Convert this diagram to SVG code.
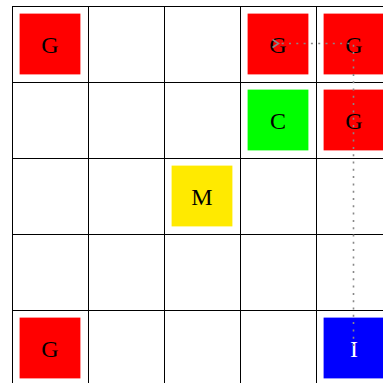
<svg xmlns="http://www.w3.org/2000/svg" width="383" height="383" viewBox="0 0 383 383">
<defs>
<style>
.grid line{stroke:#000;stroke-width:1}
.cell text{font-family:"Liberation Serif","Times New Roman",serif;font-size:24px;text-anchor:middle;fill:#000}
.conn{fill:none;stroke:#888;stroke-width:1.6;stroke-dasharray:2 5.3}
</style>
<marker id="arr" viewBox="0 0 10 10" refX="1" refY="5" markerWidth="10" markerHeight="10" markerUnits="userSpaceOnUse" orient="auto-start-reverse">
<path d="M7,1 L1,5 L7,9" fill="none" stroke="#888" stroke-width="1.6"/>
</marker>
</defs>
<rect width="383" height="383" fill="#fff"/>
<g class="grid">
<line x1="12.5" y1="6" x2="12.5" y2="383"/>
<line x1="88.5" y1="6" x2="88.5" y2="383"/>
<line x1="164.5" y1="6" x2="164.5" y2="383"/>
<line x1="240.5" y1="6" x2="240.5" y2="383"/>
<line x1="316.5" y1="6" x2="316.5" y2="383"/>
<line x1="12" y1="6.5" x2="383" y2="6.5"/>
<line x1="12" y1="82.5" x2="383" y2="82.5"/>
<line x1="12" y1="158.5" x2="383" y2="158.5"/>
<line x1="12" y1="234.5" x2="383" y2="234.5"/>
<line x1="12" y1="310.5" x2="383" y2="310.5"/>
</g>
<g id="g00" class="cell"><rect x="19.6" y="13.6" width="60.8" height="60.8" fill="#f00"/><text x="50" y="52.5">G</text></g>
<g id="g03" class="cell"><rect x="247.6" y="13.6" width="60.8" height="60.8" fill="#f00"/><text x="278" y="52.5">G</text></g>
<g id="g04" class="cell"><rect x="323.6" y="13.6" width="60.8" height="60.8" fill="#f00"/><text x="354" y="52.5">G</text></g>
<g id="c13" class="cell"><rect x="247.6" y="89.6" width="60.8" height="60.8" fill="#0f0"/><text x="278" y="128.5">C</text></g>
<g id="g14" class="cell"><rect x="323.6" y="89.6" width="60.8" height="60.8" fill="#f00"/><text x="354" y="128.5">G</text></g>
<g id="m22" class="cell"><rect x="171.6" y="165.6" width="60.8" height="60.8" fill="#ffea00"/><text x="202" y="204.5">M</text></g>
<g id="g40" class="cell"><rect x="19.6" y="317.6" width="60.8" height="60.8" fill="#f00"/><text x="50" y="356.5">G</text></g>
<g id="i44" class="cell"><rect x="323.6" y="317.6" width="60.8" height="60.8" fill="#00f"/><text x="354" y="356.5" style="fill:#fff">I</text></g>
<g id="connectors">
<path class="conn" d="M353.5,346 L353.5,43.5 L278.5,43.5" marker-end="url(#arr)"/>
</g>
</svg>
